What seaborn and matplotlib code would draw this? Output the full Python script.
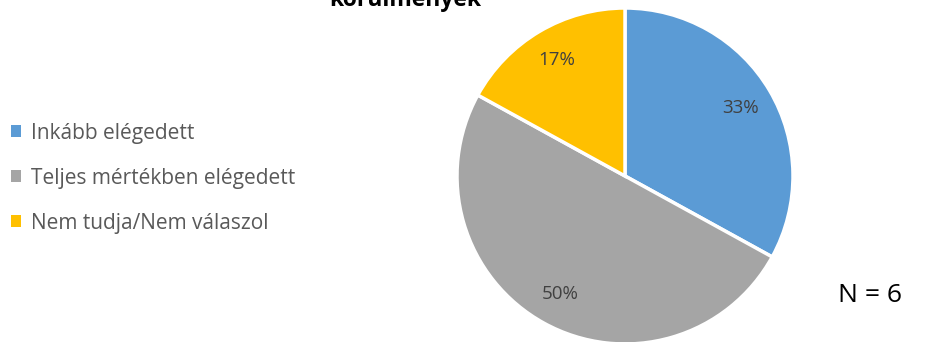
import matplotlib
matplotlib.use("Agg")
import matplotlib.pyplot as plt
from matplotlib.patches import Patch
import seaborn as sns

categories = ["Inkább elégedett", "Teljes mértékben elégedett", "Nem tudja/Nem válaszol"]
shares = [33, 50, 17]
pct_labels = ["33%", "50%", "17%"]
title = "körülmények"
note = "N = 6"

sns.set_theme(style="white")
plt.rcParams["font.family"] = ["Open Sans", "DejaVu Sans"]

colors = ["#5B9BD5", "#A5A5A5", "#FFC000"]

W, H = 928, 342
fig = plt.figure(figsize=(W / 100, H / 100), dpi=100)

# pie axes placed in pixel terms: centre (625, 176), radius 168
cx, cy, r = 625, 176, 168
ax = fig.add_axes([(cx - r) / W, (H - cy - r) / H, 2 * r / W, 2 * r / H])
wedges, texts = ax.pie(
    shares, colors=colors, startangle=90, counterclock=False,
    wedgeprops=dict(edgecolor="white", linewidth=2.5),
    labels=pct_labels, labeldistance=0.8,
    textprops=dict(color="#404040", fontsize=13.5, ha="center", va="center"),
)
ax.set_xlim(-1, 1)
ax.set_ylim(-1, 1)
ax.set_axis_off()

handles = [Patch(facecolor=c, edgecolor="none") for c in colors]
fig.legend(handles, categories, loc="upper left",
           bbox_to_anchor=(-8 / W, 1 - 104 / H), frameon=False,
           fontsize=15, labelcolor="#595959",
           handlelength=0.5, handleheight=0.5, handletextpad=0.45,
           labelspacing=1.15)

fig.text(405 / W, 1 - 6 / H, title, ha="center", va="baseline",
         fontsize=16.5, fontweight="bold", color="black")
fig.text(870 / W, 1 - 296 / H, note, ha="center", va="center",
         fontsize=19, color="black")

fig.savefig("out.png", dpi=100)
